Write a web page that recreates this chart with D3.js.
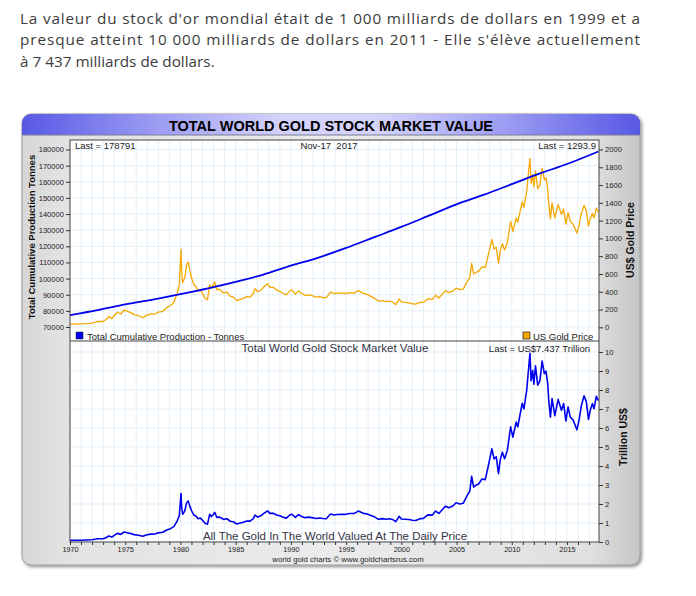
<!DOCTYPE html>
<html lang="fr">
<head>
<meta charset="UTF-8">
<title>Total World Gold Stock Market Value</title>
<script src="https://d3js.org/d3.v7.min.js"></script>
<style>
    body { margin: 0; background: #fff; }
    .intro { font-family: 'Open Sans', Lato, sans-serif; font-size: 15.3px; fill: #3c3c3c; }
    .note { font-family: Arial, 'Liberation Sans', sans-serif; font-size: 9.5px; fill: #222; }
    .axis-title { font-family: Arial, 'Liberation Sans', sans-serif; font-size: 9.5px; font-weight: bold; fill: #111; }
</style>
</head>
<body>
<div id="chart"></div>
<script>
// ---- data ----
const prodDates  = [1970, 1972.5, 1975, 1977.5, 1980, 1982.5, 1985, 1987.5, 1990, 1992.5, 1995, 1997.5, 2000, 2002.5, 2005, 2007.5, 2010, 2012.5, 2015, 2017.85];
const prodTonnes = [77400, 80500, 84000, 87000, 90400, 94000, 98000, 102500, 108000, 113000, 119000, 125500, 132000, 139000, 146000, 152000, 158500, 165000, 171000, 178791];

const priceDates = [1970.0,1970.5,1971.0,1971.5,1972.0,1972.5,1973.0,1973.3,1973.5,1973.8,1974.0,1974.3,1974.6,1974.9,1975.2,1975.5,1975.8,1976.2,1976.6,1976.9,
  1977.3,1977.7,1978.0,1978.4,1978.8,1979.1,1979.4,1979.7,1979.9,1980.05,1980.1,1980.2,1980.4,1980.55,1980.7,1980.85,1981.0,1981.2,1981.4,1981.6,
  1981.8,1982.0,1982.2,1982.45,1982.65,1982.8,1983.0,1983.1,1983.3,1983.5,1983.7,1983.9,1984.2,1984.5,1984.8,1985.1,1985.4,1985.7,1986.0,1986.3,
  1986.6,1986.75,1987.0,1987.3,1987.6,1987.9,1988.1,1988.4,1988.7,1989.0,1989.3,1989.6,1989.9,1990.1,1990.4,1990.7,1990.95,1991.3,1991.6,1991.9,
  1992.3,1992.6,1992.9,1993.2,1993.6,1993.9,1994.2,1994.6,1994.9,1995.3,1995.7,1996.0,1996.1,1996.5,1996.9,1997.2,1997.6,1997.9,1998.3,1998.6,
  1998.9,1999.2,1999.5,1999.8,2000.0,2000.3,2000.7,2001.0,2001.3,2001.7,2002.0,2002.4,2002.8,2003.1,2003.4,2003.8,2004.0,2004.3,2004.7,2004.95,
  2005.3,2005.6,2005.95,2006.2,2006.37,2006.55,2006.8,2007.0,2007.3,2007.6,2007.85,2008.0,2008.2,2008.4,2008.6,2008.8,2008.95,2009.15,2009.35,2009.6,
  2009.9,2010.1,2010.4,2010.55,2010.75,2010.95,2011.1,2011.35,2011.55,2011.65,2011.75,2011.9,2012.0,2012.15,2012.35,2012.55,2012.75,2012.95,2013.1,2013.25,
  2013.35,2013.5,2013.65,2013.9,2014.2,2014.5,2014.7,2014.9,2015.1,2015.3,2015.55,2015.9,2016.1,2016.3,2016.55,2016.75,2016.95,2017.1,2017.3,2017.45,
  2017.65,2017.85];

const goldPrice = [35,36,38,41,46,65,65,90,120,98,130,170,150,195,178,165,142,130,108,134,
  148,150,170,180,225,245,280,380,480,877,650,500,560,700,735,640,560,480,460,410,
  420,380,330,310,480,440,480,510,420,430,410,385,395,350,340,300,315,325,345,340,
  380,435,400,420,460,490,450,450,420,405,380,365,410,420,370,410,380,360,365,355,
  340,345,335,330,395,380,385,385,380,390,385,405,415,385,370,350,325,295,300,290,
  295,285,255,320,285,280,275,265,260,280,280,320,315,360,330,385,410,390,410,440,
  425,430,510,560,720,600,620,630,680,670,800,880,990,880,900,720,860,940,870,950,
  1190,1080,1230,1180,1300,1410,1350,1530,1780,1900,1620,1720,1580,1760,1560,1600,1790,1660,1680,1560,
  1390,1220,1400,1230,1380,1270,1330,1160,1290,1190,1160,1060,1150,1280,1370,1310,1140,1220,1280,1230,
  1340,1293.9];

// trillion US$
const stockValue = [0.087,0.090,0.096,0.105,0.118,0.168,0.170,0.237,0.317,0.260,0.346,0.454,0.402,0.527,0.482,0.449,0.388,0.358,0.299,0.373,
  0.414,0.422,0.481,0.511,0.644,0.703,0.806,1.102,1.397,2.552,1.892,1.460,1.641,2.058,2.161,1.888,1.658,1.426,1.371,1.226,
  1.260,1.144,0.997,0.939,1.459,1.338,1.464,1.561,1.289,1.320,1.263,1.190,1.225,1.092,1.064,0.948,1.002,1.037,1.107,1.098,
  1.235,1.418,1.312,1.386,1.527,1.637,1.508,1.517,1.424,1.381,1.303,1.256,1.419,1.462,1.295,1.443,1.345,1.282,1.310,1.282,
  1.238,1.263,1.233,1.221,1.473,1.425,1.451,1.463,1.452,1.502,1.498,1.584,1.627,1.521,1.476,1.404,1.313,1.201,1.230,1.198,
  1.224,1.188,1.071,1.350,1.208,1.196,1.183,1.147,1.134,1.229,1.238,1.427,1.414,1.627,1.502,1.763,1.886,1.806,1.911,2.064,
  2.002,2.038,2.433,2.682,3.456,2.892,3.001,3.056,3.318,3.283,3.936,4.347,4.901,4.374,4.482,3.600,4.309,4.728,4.385,4.817,
  6.057,5.519,6.310,6.065,6.708,7.304,7.007,7.971,9.292,9.937,8.489,9.030,8.311,9.275,8.252,8.480,9.523,8.864,8.988,8.362,
  7.464,6.564,7.546,6.654,7.507,6.934,7.288,6.368,7.108,6.569,6.426,5.904,6.429,7.168,7.699,7.388,6.452,6.917,7.283,7.011,
  7.665,7.437];

const yearLabels   = [1970, 1975, 1980, 1985, 1990, 1995, 2000, 2005, 2010, 2015];
const tonnesTicks  = [70000, 80000, 90000, 100000, 110000, 120000, 130000, 140000, 150000, 160000, 170000, 180000];
const priceTicks   = [0, 200, 400, 600, 800, 1000, 1200, 1400, 1600, 1800, 2000];
const valueTicks   = [0, 1, 2, 3, 4, 5, 6, 7, 8, 9, 10];

// ---- layout ----
const W = 696, H = 596;
const box = { x: 22, y: 114, w: 618, h: 451 };
const plot = { left: 70, right: 599, top: 140, mid: 341, bottom: 542 };
const BLUE = "#0000ee", GOLD = "#f5a800", GRID = "#e3eff8";

const svg = d3.select("#chart").append("svg")
    .attr("width", W).attr("height", H);

// intro paragraph
const intro = [
    { t: "La valeur du stock d'or mondial était de 1 000 milliards de dollars en 1999 et a", y: 23.5, justify: true },
    { t: "presque atteint 10 000 milliards de dollars en 2011 - Elle s'élève actuellement", y: 45, justify: true },
    { t: "à 7 437 milliards de dollars.", y: 66.5, justify: false }
];
intro.forEach(l => {
    const t = svg.append("text").attr("class", "intro").attr("x", 20).attr("y", l.y).text(l.t);
    if (l.justify) t.attr("textLength", 620).attr("lengthAdjust", "spacing");
});

const defs = svg.append("defs");
const shadow = defs.append("filter").attr("id", "shadow").attr("x", "-5%").attr("y", "-5%").attr("width", "110%").attr("height", "110%");
shadow.append("feDropShadow").attr("dx", 1.5).attr("dy", 1.5).attr("stdDeviation", 1.5).attr("flood-color", "#000").attr("flood-opacity", 0.45);

const boxGrad = defs.append("linearGradient").attr("id", "boxGrad");
[["0%", "#d6d6d6"], ["6%", "#e2e2e2"], ["50%", "#ebebeb"], ["92%", "#e0e0e0"], ["100%", "#c6c6c6"]]
    .forEach(s => boxGrad.append("stop").attr("offset", s[0]).attr("stop-color", s[1]));

const titleGrad = defs.append("linearGradient").attr("id", "titleGrad");
[["0%", "#5858e6"], ["22%", "#9d9df3"], ["42%", "#d2d2fb"], ["58%", "#d2d2fb"], ["78%", "#9d9df3"], ["100%", "#5858e6"]]
    .forEach(s => titleGrad.append("stop").attr("offset", s[0]).attr("stop-color", s[1]));

defs.append("clipPath").attr("id", "clipTop").append("rect")
    .attr("x", plot.left).attr("y", plot.top).attr("width", plot.right - plot.left).attr("height", plot.mid - plot.top);
defs.append("clipPath").attr("id", "clipBottom").append("rect")
    .attr("x", plot.left).attr("y", plot.mid).attr("width", plot.right - plot.left).attr("height", plot.bottom - plot.mid);
defs.append("clipPath").attr("id", "clipBox").append("rect")
    .attr("x", box.x).attr("y", box.y).attr("width", box.w).attr("height", box.h).attr("rx", 9);

// frame
svg.append("rect").attr("x", box.x).attr("y", box.y).attr("width", box.w).attr("height", box.h)
    .attr("rx", 9).attr("fill", "url(#boxGrad)").attr("stroke", "#9a9a9a").attr("filter", "url(#shadow)");
svg.append("rect").attr("x", box.x).attr("y", box.y).attr("width", box.w).attr("height", 21)
    .attr("fill", "url(#titleGrad)").attr("clip-path", "url(#clipBox)");
svg.append("line").attr("x1", box.x).attr("x2", box.x + box.w).attr("y1", box.y + 21).attr("y2", box.y + 21)
    .attr("stroke", "#7a7a9a");
svg.append("text").attr("x", 331).attr("y", 131).attr("text-anchor", "middle")
    .style("font-family", "Arial, 'Liberation Sans', sans-serif").style("font-size", "14.5px").style("font-weight", "bold")
    .text("TOTAL WORLD GOLD STOCK MARKET VALUE");

// scales
const x = d3.scaleLinear().domain([1970, 2017.9]).range([plot.left, plot.right]);
const yTonnes = d3.scaleLinear().domain([70000, 180000]).range([327, 149.5]);
const yPrice = d3.scaleLinear().domain([0, 2000]).range([327.3, 149.5]);
const yValue = d3.scaleLinear().domain([0, 10]).range([542, 352]);

// plot background
svg.append("rect").attr("x", plot.left).attr("y", plot.top).attr("width", plot.right - plot.left)
    .attr("height", plot.bottom - plot.top).attr("fill", "#fff");

// grid
const grid = svg.append("g").attr("stroke", GRID).attr("stroke-width", 1);
d3.range(1971, 2018).forEach(yr => {
    grid.append("line").attr("x1", x(yr)).attr("x2", x(yr)).attr("y1", plot.top).attr("y2", plot.bottom);
});
tonnesTicks.forEach(v => grid.append("line").attr("x1", plot.left).attr("x2", plot.right)
    .attr("y1", yTonnes(v)).attr("y2", yTonnes(v)));
valueTicks.forEach(v => grid.append("line").attr("x1", plot.left).attr("x2", plot.right)
    .attr("y1", yValue(v)).attr("y2", yValue(v)));

// series
const priceData = priceDates.map((d, i) => ({ d, v: goldPrice[i] }));
const valueData = priceDates.map((d, i) => ({ d, v: stockValue[i] }));
const prodData = prodDates.map((d, i) => ({ d, v: prodTonnes[i] }));

svg.append("path").datum(priceData).attr("clip-path", "url(#clipTop)")
    .attr("fill", "none").attr("stroke", GOLD).attr("stroke-width", 1.3).attr("stroke-linejoin", "round")
    .attr("d", d3.line().x(p => x(p.d)).y(p => yPrice(p.v)));

svg.append("path").datum(prodData).attr("clip-path", "url(#clipTop)")
    .attr("fill", "none").attr("stroke", BLUE).attr("stroke-width", 1.8)
    .attr("d", d3.line().curve(d3.curveMonotoneX).x(p => x(p.d)).y(p => yTonnes(p.v)));

svg.append("path").datum(valueData).attr("clip-path", "url(#clipBottom)")
    .attr("fill", "none").attr("stroke", BLUE).attr("stroke-width", 1.6).attr("stroke-linejoin", "round")
    .attr("d", d3.line().x(p => x(p.d)).y(p => yValue(p.v)));

// plot borders
svg.append("rect").attr("x", plot.left).attr("y", plot.top).attr("width", plot.right - plot.left)
    .attr("height", plot.bottom - plot.top).attr("fill", "none").attr("stroke", "#444");
svg.append("line").attr("x1", plot.left).attr("x2", plot.right).attr("y1", plot.mid).attr("y2", plot.mid)
    .attr("stroke", "#444");

// axes
function styleAxis(g, size) {
    g.select(".domain").remove();
    g.selectAll(".tick line").attr("stroke", "#333");
    g.selectAll(".tick text").attr("fill", "#222")
        .style("font-family", "Arial, 'Liberation Sans', sans-serif").style("font-size", size + "px");
}
svg.append("g").attr("transform", `translate(${plot.left},0)`)
    .call(d3.axisLeft(yTonnes).tickValues(tonnesTicks).tickSize(4).tickPadding(2).tickFormat(d3.format("d")))
    .call(styleAxis, 7.6);
svg.append("g").attr("transform", `translate(${plot.right},0)`)
    .call(d3.axisRight(yPrice).tickValues(priceTicks).tickSize(4).tickPadding(2).tickFormat(d3.format("d")))
    .call(styleAxis, 7.6);
svg.append("g").attr("transform", `translate(${plot.right},0)`)
    .call(d3.axisRight(yValue).tickValues(valueTicks).tickSize(4).tickPadding(2).tickFormat(d3.format("d")))
    .call(styleAxis, 7.6);
svg.append("g").attr("transform", `translate(0,${plot.bottom})`)
    .call(d3.axisBottom(x).tickValues(d3.range(1970, 2018)).tickSize(3).tickPadding(2)
        .tickFormat(d => yearLabels.includes(d) ? d : ""))
    .call(styleAxis, 7.3);

// axis titles
svg.append("text").attr("class", "axis-title").attr("text-anchor", "middle")
    .attr("transform", "translate(35,237) rotate(-90)").text("Total Cumulative Production Tonnes");
svg.append("text").attr("class", "axis-title").attr("text-anchor", "middle").style("font-size", "10.5px")
    .attr("transform", "translate(634,240) rotate(-90)").text("US$ Gold Price");
svg.append("text").attr("class", "axis-title").attr("text-anchor", "middle").style("font-size", "10.5px")
    .attr("transform", "translate(627,437) rotate(-90)").text("Trillion US$");

// notes in panels
svg.append("text").attr("class", "note").attr("x", 75).attr("y", 149).text("Last = 178791");
svg.append("text").attr("class", "note").attr("x", 329).attr("y", 149).attr("text-anchor", "middle")
    .attr("xml:space", "preserve").text("Nov-17  2017");
svg.append("text").attr("class", "note").attr("x", 596).attr("y", 149).attr("text-anchor", "end").text("Last = 1293.9");

svg.append("rect").attr("x", 76).attr("y", 332).attr("width", 7).attr("height", 7).attr("fill", BLUE).attr("stroke", "#222").attr("stroke-width", 0.5);
svg.append("text").attr("class", "note").attr("x", 87).attr("y", 339.5).text("Total Cumulative Production - Tonnes");
svg.append("rect").attr("x", 523).attr("y", 332).attr("width", 7).attr("height", 7).attr("fill", GOLD).attr("stroke", "#222").attr("stroke-width", 0.7);
svg.append("text").attr("class", "note").attr("x", 533).attr("y", 339.5).text("US Gold Price");

svg.append("text").attr("class", "note").attr("x", 335).attr("y", 352).attr("text-anchor", "middle")
    .style("font-size", "11.5px").style("fill", "#333345").text("Total World Gold Stock Market Value");
svg.append("text").attr("class", "note").attr("x", 590).attr("y", 352).attr("text-anchor", "end")
    .text("Last = US$7.437 Trillion");
svg.append("text").attr("class", "note").attr("x", 335).attr("y", 540).attr("text-anchor", "middle")
    .style("font-size", "11.5px").style("fill", "#333345").text("All The Gold In The World Valued At The Daily Price");
svg.append("text").attr("class", "note").attr("x", 348).attr("y", 562).attr("text-anchor", "middle")
    .style("font-size", "7.8px").text("world gold charts © www.goldchartsrus.com");
</script>
</body>
</html>
